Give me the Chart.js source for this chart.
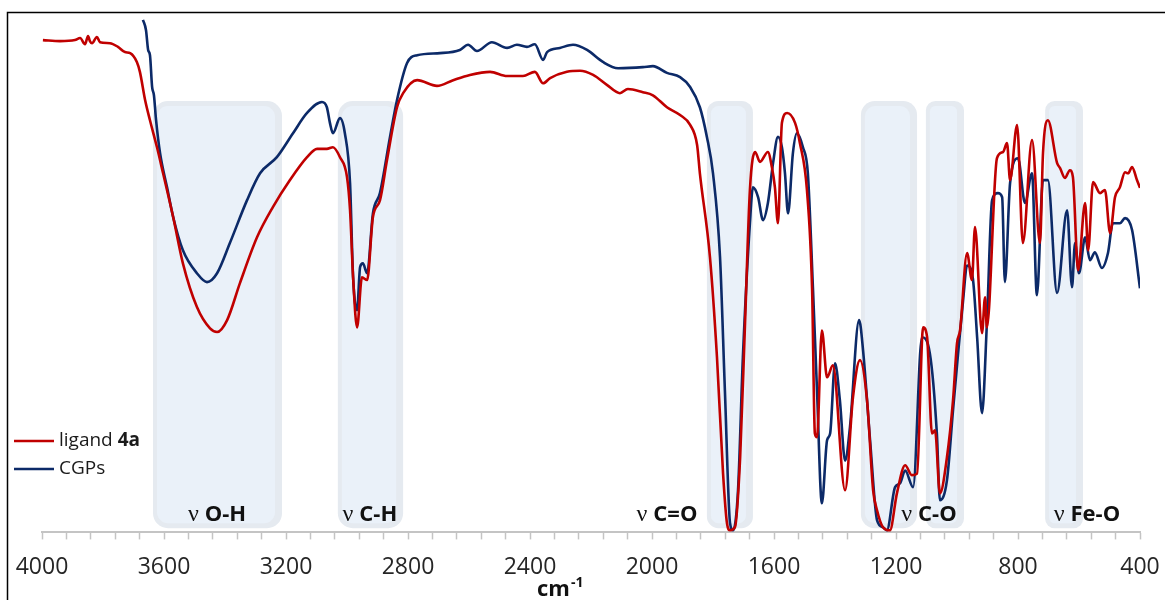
<!DOCTYPE html>
<html>
<head>
<meta charset="utf-8">
<script src="https://cdn.jsdelivr.net/npm/chart.js@4.4.1/dist/chart.umd.min.js"></script>
<style>
  html, body { margin: 0; padding: 0; background: #fff; }
  #wrap { width: 1165px; height: 600px; position: relative; }
</style>
</head>
<body>
<div id="wrap"><canvas id="irChart" width="1165" height="600"></canvas></div>
<script>
// ---------------------- Data ----------------------
const ligandWavenumber = [3997, 3941, 3892, 3875, 3859, 3849, 3843, 3836, 3820, 3810, 3777, 3751, 3728, 3711, 3689, 3679, 3662, 3646, 3623, 3603, 3570, 3538, 3492, 3449, 3426, 3393, 3351, 3295, 3243, 3187, 3131, 3098, 3066, 3046, 3023, 3000, 2990, 2980, 2967, 2951, 2934, 2915, 2892, 2869, 2836, 2816, 2770, 2705, 2652, 2597, 2531, 2475, 2423, 2384, 2357, 2334, 2279, 2236, 2193, 2148, 2105, 2079, 2030, 1997, 1951, 1908, 1875, 1852, 1843, 1810, 1787, 1767, 1754, 1744, 1728, 1711, 1695, 1679, 1662, 1646, 1620, 1607, 1597, 1587, 1574, 1557, 1531, 1515, 1492, 1475, 1466, 1459, 1443, 1426, 1407, 1367, 1341, 1318, 1295, 1275, 1262, 1243, 1220, 1197, 1170, 1148, 1131, 1111, 1098, 1082, 1072, 1056, 1033, 1013, 1000, 990, 967, 951, 941, 918, 908, 902, 869, 849, 836, 826, 803, 784, 754, 728, 718, 702, 672, 662, 646, 630, 620, 603, 580, 570, 554, 531, 515, 498, 482, 466, 449, 439, 426, 410, 400];
const ligandT = [94.6, 94.4, 94.6, 95.0, 93.8, 95.4, 94.4, 94.0, 95.2, 94.2, 94.0, 93.3, 92.3, 92.1, 90.4, 88.5, 83.1, 79.2, 74.0, 69.0, 60.6, 51.7, 43.3, 39.2, 38.5, 40.8, 47.9, 56.7, 62.5, 67.7, 72.1, 73.7, 73.7, 74.0, 72.1, 68.3, 61.9, 49.0, 39.4, 49.0, 48.5, 60.6, 63.8, 71.5, 81.7, 84.4, 86.9, 85.8, 86.9, 87.9, 88.5, 87.7, 87.7, 88.5, 86.3, 87.3, 88.5, 88.7, 87.9, 86.0, 84.4, 85.2, 84.6, 84.0, 81.7, 80.2, 78.3, 74.4, 69.0, 52.9, 33.7, 11.3, 1.7, 0.4, 1.0, 14.4, 40.2, 65.8, 73.1, 71.2, 73.1, 70.2, 66.3, 59.4, 78.7, 80.6, 78.7, 74.8, 65.8, 46.5, 19.0, 18.3, 38.8, 29.8, 32.1, 8.1, 26.0, 33.1, 25.4, 8.1, 4.2, 1.0, 0.4, 7.5, 12.9, 11.0, 11.3, 39.4, 37.5, 19.0, 19.6, 7.5, 14.4, 25.4, 36.3, 38.8, 53.7, 48.5, 58.7, 38.3, 45.2, 39.4, 71.9, 73.1, 74.8, 67.7, 78.3, 55.6, 75.4, 55.6, 72.9, 79.2, 71.0, 70.0, 68.1, 69.6, 68.3, 50.4, 63.3, 54.2, 67.3, 65.2, 65.8, 57.5, 64.4, 66.3, 69.2, 69.0, 70.2, 67.7, 66.2];

const cgpWavenumber = [3669, 3659, 3652, 3646, 3639, 3633, 3626, 3613, 3590, 3570, 3538, 3492, 3459, 3426, 3384, 3328, 3285, 3230, 3177, 3131, 3082, 3066, 3056, 3046, 3023, 3007, 2990, 2980, 2967, 2957, 2948, 2934, 2915, 2892, 2859, 2836, 2803, 2770, 2695, 2630, 2603, 2574, 2525, 2475, 2443, 2410, 2384, 2357, 2344, 2302, 2259, 2213, 2161, 2111, 2030, 1997, 1951, 1908, 1875, 1843, 1820, 1800, 1777, 1761, 1744, 1734, 1718, 1702, 1679, 1669, 1652, 1636, 1620, 1603, 1587, 1574, 1564, 1554, 1538, 1525, 1505, 1489, 1472, 1459, 1443, 1426, 1416, 1400, 1384, 1367, 1351, 1321, 1308, 1285, 1262, 1243, 1230, 1203, 1187, 1170, 1144, 1115, 1089, 1066, 1056, 1033, 1013, 997, 980, 967, 948, 934, 918, 902, 885, 866, 852, 843, 826, 800, 777, 754, 738, 718, 702, 672, 639, 623, 613, 600, 580, 564, 548, 525, 505, 489, 466, 449, 426, 400];
const cgpT = [98.5, 96.5, 92.7, 91.7, 85.6, 84.0, 79.2, 72.9, 66.3, 60.6, 54.2, 49.8, 48.1, 49.8, 55.6, 63.8, 69.0, 72.1, 76.7, 80.6, 82.7, 81.7, 78.7, 76.7, 79.6, 76.7, 67.1, 49.0, 42.7, 51.0, 51.7, 49.8, 61.3, 65.2, 76.0, 83.1, 90.2, 91.7, 92.1, 92.7, 93.7, 92.5, 94.2, 93.1, 93.7, 93.3, 93.8, 90.8, 92.3, 93.1, 93.7, 92.7, 90.4, 89.2, 89.4, 89.6, 88.3, 87.5, 85.6, 81.7, 76.0, 69.0, 52.9, 27.3, 1.7, 0.4, 8.1, 33.7, 59.4, 66.3, 64.4, 60.0, 63.3, 71.0, 76.0, 74.0, 69.0, 61.3, 72.9, 76.7, 74.0, 69.0, 46.5, 27.3, 5.6, 17.7, 19.0, 32.5, 25.4, 13.8, 20.2, 40.8, 35.0, 17.7, 2.3, 1.0, 0.4, 8.7, 9.4, 11.9, 8.7, 37.5, 34.4, 19.0, 6.2, 10.0, 23.5, 34.0, 44.6, 51.3, 48.8, 37.5, 22.9, 40.2, 63.8, 65.2, 64.4, 48.1, 67.1, 71.9, 63.3, 69.0, 45.6, 67.7, 67.7, 46.0, 61.9, 47.1, 55.6, 49.8, 56.7, 52.3, 53.8, 50.8, 53.7, 59.4, 59.4, 60.4, 58.1, 46.9];

// shaded regions (cm-1) and their labels
const bandStart = [3636, 3030, 1820, 1315, 1102, 711];
const bandEnd = [3213, 2816, 1669, 1131, 977, 587];
const bandLabels = ["O-H", "C-H", "C=O", "C-O", "Fe-O"];
const bandLabelAt = [3426, 2925, 1951, 1092, 574];

const xMin = 400;
const xMax = 4000;
const xMinorStep = 80;
const xLabelStep = 400;

const seriesNames = ["ligand ", "CGPs"];
const seriesBold = ["4a", ""];
const seriesColors = ["#c00000", "#0c2a68"];

// ---------------------- Helpers ----------------------
function roundRectPath(ctx, x, y, w, h, r) {
  ctx.beginPath();
  ctx.moveTo(x + r, y);
  ctx.arcTo(x + w, y, x + w, y + h, r);
  ctx.arcTo(x + w, y + h, x, y + h, r);
  ctx.arcTo(x, y + h, x, y, r);
  ctx.arcTo(x, y, x + w, y, r);
  ctx.closePath();
}

const bandPlugin = {
  id: "bands",
  beforeDatasetsDraw(chart) {
    const { ctx, scales: { x, y } } = chart;
    const top = y.getPixelForValue(82.9);
    const bottom = y.getPixelForValue(0.8);
    ctx.save();
    bandStart.forEach((s, i) => {
      const x0 = x.getPixelForValue(s);
      const x1 = x.getPixelForValue(bandEnd[i]);
      const w = x1 - x0;
      const r = Math.min(15, w / 4);
      ctx.fillStyle = "#e5eaf0";
      roundRectPath(ctx, x0, top, w, bottom - top, r);
      ctx.fill();
      ctx.fillStyle = "#eaf1f9";
      roundRectPath(ctx, x0 + 4, top + 5, w - 11, bottom - top - 10, Math.max(r - 4, 3));
      ctx.fill();
    });
    ctx.restore();
  },
  afterDatasetsDraw(chart) {
    const { ctx, scales: { x }, chartArea } = chart;
    const base = chartArea.bottom - 11;
    ctx.save();
    ctx.textBaseline = "alphabetic";
    ctx.fillStyle = "#111";
    bandLabels.forEach((lab, i) => {
      ctx.font = "24px 'Liberation Serif'";
      const nuW = ctx.measureText("\u03bd ").width;
      ctx.font = "bold 22px 'Open Sans'";
      const labW = ctx.measureText(lab).width;
      const cx = x.getPixelForValue(bandLabelAt[i]);
      let left = cx - (nuW + labW) / 2;
      ctx.font = "24px 'Liberation Serif'";
      ctx.fillText("\u03bd ", left, base);
      ctx.font = "bold 22px 'Open Sans'";
      ctx.fillText(lab, left + nuW, base);
    });
    ctx.restore();
  }
};

const decorPlugin = {
  id: "decor",
  afterDraw(chart) {
    const { ctx } = chart;
    ctx.save();
    // frame (left and top edges)
    ctx.strokeStyle = "#000";
    ctx.lineWidth = 1.5;
    ctx.beginPath();
    ctx.moveTo(7.5, 600);
    ctx.lineTo(7.5, 12.5);
    ctx.lineTo(1165, 12.5);
    ctx.stroke();

    // legend
    ctx.lineWidth = 2.5;
    seriesNames.forEach((name, i) => {
      const yy = 441 + i * 28;
      ctx.strokeStyle = seriesColors[i];
      ctx.beginPath();
      ctx.moveTo(14, yy);
      ctx.lineTo(54, yy);
      ctx.stroke();
      ctx.fillStyle = "#1a1a1a";
      ctx.textBaseline = "middle";
      ctx.font = "19px 'Open Sans'";
      ctx.fillText(name, 59, yy);
      if (seriesBold[i]) {
        const w = ctx.measureText(name).width;
        ctx.font = "bold 19px 'Open Sans'";
        ctx.fillText(seriesBold[i], 59 + w, yy);
      }
    });

    // axis title cm-1
    ctx.fillStyle = "#111";
    ctx.textBaseline = "alphabetic";
    ctx.font = "bold 22px 'Open Sans'";
    ctx.fillText("cm", 537, 596);
    const cmW = ctx.measureText("cm").width;
    ctx.font = "bold 14px 'Open Sans'";
    ctx.fillText("-1", 537 + cmW + 1, 587);
    ctx.restore();
  }
};

// ---------------------- Chart ----------------------
const ctx = document.getElementById("irChart");

new Chart(ctx, {
  type: "line",
  data: {
    datasets: [
      {
        label: "ligand 4a",
        data: ligandWavenumber.map((w, i) => ({ x: w, y: ligandT[i] })),
        borderColor: seriesColors[0],
        borderWidth: 2.6,
        pointRadius: 0,
        cubicInterpolationMode: "monotone",
        fill: false
      },
      {
        label: "CGPs",
        data: cgpWavenumber.map((w, i) => ({ x: w, y: cgpT[i] })),
        borderColor: seriesColors[1],
        borderWidth: 2.6,
        pointRadius: 0,
        cubicInterpolationMode: "monotone",
        fill: false
      }
    ]
  },
  options: {
    responsive: false,
    animation: false,
    layout: { padding: { left: 42, right: 25, top: 12, bottom: 5 } },
    plugins: {
      legend: { display: false },
      tooltip: { enabled: false }
    },
    scales: {
      x: {
        type: "linear",
        reverse: true,
        min: xMin,
        max: xMax,
        afterFit: scale => {
          // labels fit inside the layout padding already
          scale.paddingLeft = 0;
          scale.paddingRight = 0;
        },
        border: { color: "#c4c4c4", width: 2 },
        grid: { drawOnChartArea: false, drawTicks: true, tickLength: 7, color: "#c4c4c4", tickWidth: 1.5 },
        ticks: {
          stepSize: xMinorStep,
          autoSkip: false,
          maxRotation: 0,
          padding: 14,
          color: "#262626",
          font: { family: "'Open Sans'", size: 23 },
          callback: v => (v % xLabelStep === 0 ? String(v) : "")
        }
      },
      y: {
        display: false,
        min: 0,
        max: 100
      }
    }
  },
  plugins: [bandPlugin, decorPlugin]
});
</script>
</body>
</html>
